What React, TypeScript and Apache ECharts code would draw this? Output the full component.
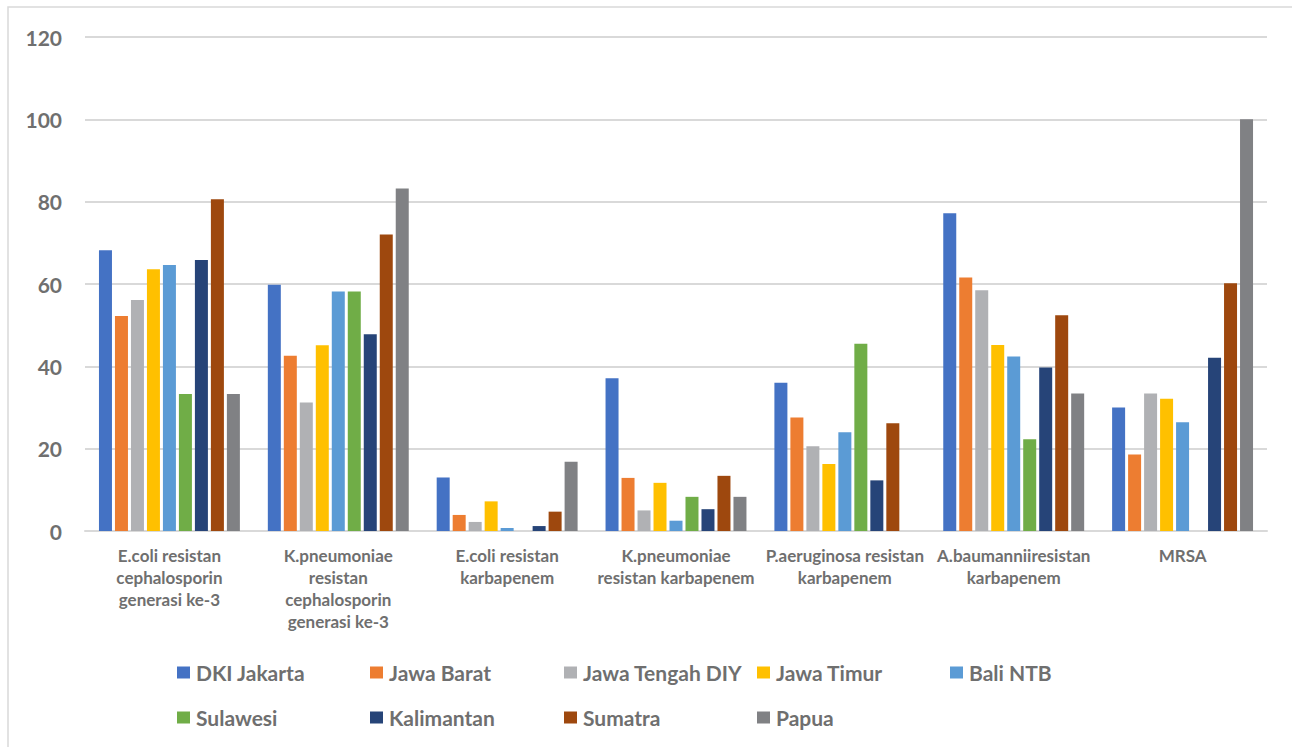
import React, { useEffect, useRef } from "react";
import * as echarts from "echarts";

const categories = [
  "E.coli resistan\ncephalosporin\ngenerasi ke-3",
  "K.pneumoniae\nresistan\ncephalosporin\ngenerasi ke-3",
  "E.coli resistan\nkarbapenem",
  "K.pneumoniae\nresistan karbapenem",
  "P.aeruginosa resistan\nkarbapenem",
  "A.baumanniiresistan\nkarbapenem",
  "MRSA",
];

const seriesNames = [
  "DKI Jakarta",
  "Jawa Barat",
  "Jawa Tengah DIY",
  "Jawa Timur",
  "Bali NTB",
  "Sulawesi",
  "Kalimantan",
  "Sumatra",
  "Papua",
];

const dkiJakarta = [68.2, 59.8, 13.0, 37.1, 36.0, 77.2, 30.0];
const jawaBarat = [52.2, 42.6, 3.9, 12.9, 27.6, 61.6, 18.6];
const jawaTengahDIY = [56.1, 31.2, 2.2, 5.0, 20.6, 58.5, 33.4];
const jawaTimur = [63.6, 45.1, 7.2, 11.7, 16.3, 45.2, 32.1];
const baliNTB = [64.6, 58.2, 0.7, 2.5, 24.0, 42.4, 26.4];
const sulawesi = [33.3, 58.2, null, 8.3, 45.5, 22.3, null];
const kalimantan = [65.8, 47.8, 1.2, 5.3, 12.3, 39.7, 42.1];
const sumatra = [80.6, 72.0, 4.7, 13.4, 26.2, 52.4, 60.2];
const papua = [33.3, 83.2, 16.8, 8.3, null, 33.4, 100];

const seriesValues = [
  dkiJakarta,
  jawaBarat,
  jawaTengahDIY,
  jawaTimur,
  baliNTB,
  sulawesi,
  kalimantan,
  sumatra,
  papua,
];

const colors = [
  "#4472C4",
  "#ED7D31",
  "#B0B1B4",
  "#FFC000",
  "#5B9BD5",
  "#70AD47",
  "#264478",
  "#9E480E",
  "#808184",
];

const yTicks = { min: 0, max: 120, interval: 20 };

const FONT = "Lato, 'Open Sans', sans-serif";
const TEXT_COLOR = "#6f6f6f";

export default function App() {
  const ref = useRef<HTMLDivElement>(null);

  useEffect(() => {
    if (!ref.current) return;
    const chart = echarts.init(ref.current, undefined, { renderer: "svg" });

    const legendCols = [177, 370, 564, 757, 950];
    const legendRows = [662, 707];
    const legends = seriesNames.map((name, i) => ({
      data: [name],
      left: legendCols[i % 5],
      top: legendRows[Math.floor(i / 5)],
      padding: 0,
      itemWidth: 13,
      itemHeight: 12,
      icon: "rect",
      selectedMode: false,
      textStyle: {
        fontFamily: FONT,
        fontWeight: "bold",
        fontSize: 21,
        color: TEXT_COLOR,
        padding: [0, 0, 0, 1],
      },
    }));

    chart.setOption({
      animation: false,
      backgroundColor: "#ffffff",
      color: colors,
      textStyle: { fontFamily: FONT },
      graphic: [
        {
          type: "rect",
          shape: { x: 8, y: 7, width: 1320, height: 800 },
          style: { fill: "none", stroke: "#d9d9d9", lineWidth: 1.5 },
          silent: true,
        },
      ],
      legend: legends,
      grid: { left: 85, right: 25, top: 37, bottom: 216, containLabel: false },
      xAxis: {
        type: "category",
        data: categories,
        axisTick: { show: false },
        axisLine: { lineStyle: { color: "#d9d9d9", width: 2 } },
        axisLabel: {
          interval: 0,
          margin: 13,
          fontFamily: FONT,
          fontWeight: "bold",
          fontSize: 17,
          lineHeight: 22,
          color: TEXT_COLOR,
          align: "center",
        },
      },
      yAxis: {
        type: "value",
        min: yTicks.min,
        max: yTicks.max,
        interval: yTicks.interval,
        axisLine: { show: false },
        axisTick: { show: false },
        splitLine: { lineStyle: { color: "#d9d9d9", width: 2 } },
        axisLabel: {
          margin: 23,
          fontFamily: FONT,
          fontWeight: "bold",
          fontSize: 21,
          color: TEXT_COLOR,
        },
      },
      series: seriesNames.map((name, i) => ({
        name,
        type: "bar",
        data: seriesValues[i],
        barWidth: 13,
        barGap: "23%",
        itemStyle: { color: colors[i] },
      })),
    });

    return () => chart.dispose();
  }, []);

  return (
    <div
      ref={ref}
      style={{ position: "fixed", left: 0, top: 0, width: 1292, height: 747 }}
    />
  );
}
